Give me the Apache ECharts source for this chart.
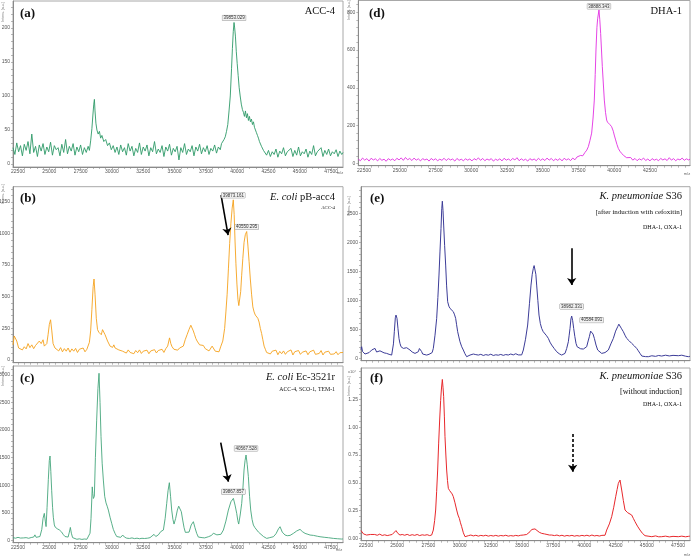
<!DOCTYPE html>
<html><head><meta charset="utf-8">
<script src="https://cdn.jsdelivr.net/npm/echarts@6/dist/echarts.min.js"></script>
<style>html,body{margin:0;padding:0;background:#fff}#c{width:691px;height:558px}</style>
</head><body><div id="c"></div>
<script>
// ---------- data (m/z, intensity) ----------
const spectrumA = [[22100,24],[22250,14],[22400,31],[22550,18],[22700,27],[22850,12],[23000,29],[23150,20],[23300,33],[23450,15],[23600,44],[23750,17],[23900,26],[24050,11],[24200,28],[24350,19],[24500,30],[24650,14],[24800,25],[24950,18],[25100,32],[25250,13],[25400,27],[25550,21],[25700,24],[25850,12],[26000,29],[26150,17],[26300,36],[26450,15],[26600,26],[26750,19],[26900,30],[27050,13],[27200,25],[27350,18],[27500,28],[27650,14],[27800,24],[27950,17],[28100,26],[28200,20],[28300,34],[28400,52],[28480,72],[28550,88],[28600,95],[28650,78],[28720,60],[28800,50],[28900,44],[29000,48],[29100,38],[29200,42],[29350,33],[29500,36],[29650,27],[29800,31],[29950,21],[30100,27],[30250,17],[30400,25],[30550,14],[30700,28],[30850,18],[31000,24],[31150,13],[31300,30],[31450,19],[31600,26],[31750,12],[31900,23],[32050,17],[32200,31],[32350,14],[32500,25],[32650,19],[32800,28],[32950,12],[33100,24],[33250,18],[33400,33],[33550,15],[33700,22],[33850,17],[34000,27],[34150,11],[34300,25],[34450,19],[34600,29],[34750,13],[34900,23],[35050,18],[35200,26],[35350,6],[35500,24],[35650,17],[35800,30],[35950,14],[36100,22],[36250,18],[36400,27],[36550,12],[36700,25],[36850,19],[37000,29],[37150,15],[37300,24],[37450,18],[37600,27],[37750,14],[37900,23],[38050,19],[38200,28],[38350,16],[38500,25],[38650,21],[38750,30],[38850,28],[38950,36],[39050,40],[39150,48],[39250,58],[39350,78],[39450,100],[39550,140],[39620,170],[39690,195],[39750,208],[39800,200],[39860,188],[39930,165],[40000,148],[40080,130],[40160,112],[40240,100],[40330,88],[40420,80],[40500,76],[40580,70],[40660,78],[40740,68],[40820,74],[40900,64],[40980,70],[41060,62],[41140,66],[41220,58],[41300,62],[41380,54],[41460,50],[41540,46],[41620,42],[41700,38],[41780,33],[41860,35],[41940,26],[42020,28],[42100,20],[42200,22],[42350,13],[42500,20],[42650,11],[42800,18],[42950,14],[43100,22],[43250,10],[43400,19],[43550,15],[43700,24],[43850,12],[44000,18],[44150,16],[44300,23],[44450,11],[44600,20],[44750,13],[44900,25],[45050,12],[45200,18],[45350,15],[45500,22],[45650,10],[45800,19],[45950,14],[46100,27],[46250,12],[46400,18],[46550,16],[46700,24],[46850,11],[47000,20],[47150,14],[47300,22],[47450,12],[47600,18],[47750,15],[47900,21],[48050,11],[48200,19],[48350,14],[48450,17]];

const spectrumB = [[22100,120],[22200,190],[22280,205],[22400,150],[22550,95],[22700,110],[22850,80],[23000,105],[23150,88],[23300,130],[23450,98],[23600,120],[23750,90],[23900,115],[24050,100],[24200,150],[24350,130],[24500,160],[24600,110],[24700,100],[24800,130],[24900,200],[25000,280],[25100,318],[25200,230],[25300,130],[25450,95],[25600,110],[25750,72],[25900,98],[26050,65],[26200,90],[26350,70],[26500,95],[26650,62],[26800,88],[26950,70],[27100,92],[27250,60],[27400,85],[27550,72],[27700,95],[27850,65],[28000,85],[28100,100],[28200,140],[28300,230],[28400,400],[28500,580],[28570,640],[28650,520],[28750,330],[28850,240],[28950,220],[29050,235],[29150,200],[29250,240],[29350,250],[29450,200],[29550,185],[29650,150],[29750,160],[29850,110],[29950,125],[30050,100],[30150,120],[30250,95],[30400,110],[30550,80],[30700,95],[30850,70],[31000,78],[31150,55],[31300,80],[31450,60],[31600,72],[31750,50],[31900,75],[32050,58],[32200,80],[32350,52],[32500,70],[32650,55],[32800,78],[32950,50],[33100,72],[33250,60],[33400,82],[33550,56],[33700,75],[33850,62],[34000,85],[34150,60],[34300,90],[34450,110],[34600,175],[34700,130],[34800,105],[34950,85],[35100,100],[35250,78],[35400,95],[35550,85],[35700,110],[35850,160],[36000,200],[36150,240],[36300,275],[36400,260],[36500,230],[36600,200],[36700,170],[36800,150],[36900,165],[37000,120],[37150,105],[37300,115],[37450,90],[37600,88],[37750,72],[37900,85],[38000,110],[38100,95],[38250,70],[38400,80],[38550,65],[38700,110],[38850,150],[39000,250],[39100,380],[39200,520],[39300,720],[39400,920],[39500,1080],[39600,1200],[39690,1265],[39760,1150],[39830,940],[39900,760],[39980,600],[40060,480],[40130,430],[40200,440],[40280,540],[40360,670],[40450,800],[40550,930],[40650,990],[40760,1015],[40860,900],[40950,780],[41050,640],[41150,520],[41250,420],[41350,380],[41450,355],[41550,345],[41650,330],[41750,300],[41850,250],[41950,210],[42050,160],[42150,110],[42250,85],[42350,60],[42500,75],[42650,48],[42800,70],[42950,55],[43100,78],[43250,42],[43400,68],[43550,50],[43700,72],[43850,45],[44000,65],[44150,52],[44300,80],[44450,40],[44600,66],[44750,55],[44900,75],[45050,45],[45200,62],[45350,50],[45500,72],[45650,42],[45800,65],[45950,55],[46100,78],[46250,45],[46400,60],[46550,52],[46700,75],[46850,40],[47000,62],[47150,50],[47300,70],[47450,45],[47600,60],[47750,48],[47900,66],[48050,42],[48200,58],[48350,50],[48450,60]];

const spectrumC = [[22100,50],[22300,40],[22500,55],[22700,42],[22800,60],[22950,45],[23150,50],[23350,38],[23550,52],[23750,60],[23850,100],[23950,55],[24100,45],[24250,70],[24400,200],[24500,400],[24600,490],[24680,350],[24740,250],[24820,600],[24920,1100],[25000,1450],[25056,1530],[25120,1250],[25190,900],[25260,600],[25320,420],[25400,280],[25470,240],[25560,230],[25640,210],[25720,225],[25800,190],[25900,165],[25990,150],[26100,110],[26250,70],[26390,50],[26500,60],[26600,150],[26680,235],[26760,130],[26860,50],[27000,28],[27200,20],[27400,28],[27600,18],[27800,25],[28000,20],[28120,30],[28250,130],[28330,400],[28430,970],[28470,850],[28520,760],[28596,800],[28680,1500],[28780,2180],[28880,2750],[28969,3030],[29050,2500],[29128,1880],[29220,1400],[29315,1094],[29420,800],[29528,680],[29620,620],[29714,550],[29850,420],[29980,310],[30110,200],[30246,127],[30380,70],[30512,36],[30700,55],[30860,97],[31000,60],[31180,40],[31400,35],[31600,45],[31800,32],[32000,40],[32200,30],[32400,38],[32600,34],[32850,40],[33042,50],[33200,70],[33361,109],[33500,70],[33707,100],[33900,160],[34107,187],[34250,400],[34373,671],[34480,900],[34585,1046],[34680,800],[34772,550],[34870,380],[34958,296],[35090,400],[35224,550],[35330,620],[35437,641],[35540,520],[35650,369],[35760,230],[35863,145],[36000,127],[36156,150],[36330,280],[36502,339],[36630,230],[36768,127],[36900,60],[37035,36],[37200,50],[37400,45],[37700,66],[37950,90],[38100,130],[38233,157],[38380,100],[38499,66],[38700,110],[38898,187],[39100,350],[39297,550],[39500,700],[39697,762],[39830,640],[39963,490],[40050,360],[40122,296],[40240,460],[40362,671],[40460,950],[40548,1276],[40630,1450],[40708,1548],[40800,1380],[40894,1155],[40990,800],[41081,550],[41190,380],[41294,278],[41420,230],[41560,200],[41700,150],[41826,127],[42100,70],[42359,36],[42600,50],[42891,66],[43100,120],[43300,210],[43423,248],[43600,150],[43823,97],[44000,85],[44222,90],[44488,127],[44750,170],[45020,200],[45200,160],[45420,127],[45650,110],[45819,97],[46100,90],[46400,75],[46618,66],[47000,55],[47300,48],[47683,36],[48000,30],[48349,24],[48450,26]];

const spectrumD = [[22100,22],[22250,14],[22400,28],[22550,17],[22700,25],[22850,12],[23000,27],[23150,18],[23300,24],[23450,13],[23600,26],[23750,16],[23900,22],[24050,11],[24200,25],[24350,17],[24500,23],[24650,14],[24800,27],[24950,18],[25100,29],[25250,16],[25400,31],[25550,19],[25700,26],[25850,15],[26000,28],[26150,17],[26300,24],[26450,13],[26600,25],[26750,18],[26900,23],[27050,12],[27200,26],[27350,17],[27500,24],[27650,14],[27800,22],[27950,16],[28100,27],[28250,15],[28400,25],[28550,18],[28700,23],[28850,12],[29000,26],[29150,16],[29300,22],[29450,14],[29600,24],[29750,17],[29900,23],[30050,13],[30200,25],[30350,18],[30500,29],[30650,16],[30800,26],[30950,14],[31100,23],[31250,17],[31400,25],[31550,12],[31700,22],[31850,16],[32000,24],[32150,13],[32300,27],[32450,17],[32600,23],[32750,15],[32900,26],[33050,18],[33200,30],[33350,14],[33500,24],[33650,16],[33800,22],[33950,12],[34100,25],[34250,17],[34400,23],[34550,14],[34700,27],[34850,16],[35000,24],[35150,15],[35300,28],[35450,17],[35600,26],[35750,14],[35900,23],[36050,16],[36200,25],[36350,13],[36500,27],[36650,18],[36800,24],[36950,15],[37100,28],[37250,19],[37400,34],[37500,30],[37650,42],[37800,40],[37955,58],[38080,70],[38188,88],[38300,120],[38421,160],[38520,240],[38607,335],[38670,470],[38724,600],[38790,720],[38840,765],[38934,812],[38990,760],[39050,688],[39110,600],[39167,512],[39240,420],[39307,335],[39390,270],[39470,229],[39530,218],[39586,212],[39700,205],[39819,194],[39936,170],[40000,150],[40099,124],[40190,100],[40286,79],[40400,64],[40519,53],[40650,42],[40750,35],[40868,30],[41000,22],[41150,31],[41300,17],[41450,26],[41600,14],[41750,24],[41900,18],[42050,28],[42200,15],[42350,23],[42500,13],[42650,25],[42800,17],[42950,22],[43100,14],[43250,26],[43400,18],[43550,24],[43700,15],[43850,30],[44000,17],[44150,25],[44300,14],[44450,23],[44600,18],[44750,28],[44900,16],[45050,24],[45200,18],[45300,22]];

const spectrumE = [[22100,150],[22153,201],[22220,120],[22286,90],[22420,75],[22553,57],[22750,100],[22954,144],[23100,120],[23221,172],[23350,110],[23488,100],[23620,130],[23755,115],[23950,95],[24156,86],[24350,70],[24557,57],[24637,80],[24700,250],[24770,460],[24850,700],[24904,747],[24984,690],[25060,520],[25144,345],[25220,260],[25305,201],[25400,180],[25492,172],[25620,195],[25759,184],[25900,160],[26026,144],[26200,110],[26426,86],[26560,100],[26693,115],[26780,170],[26854,201],[26950,120],[27041,75],[27200,65],[27361,57],[27550,70],[27708,57],[27800,100],[27895,172],[28030,400],[28163,690],[28260,1050],[28349,1437],[28430,1850],[28510,2241],[28570,2580],[28617,2710],[28670,2550],[28723,2299],[28800,1950],[28884,1609],[28960,1250],[29044,977],[29140,900],[29231,862],[29360,830],[29498,805],[29600,750],[29685,690],[29760,580],[29845,460],[29940,370],[30032,287],[30170,200],[30299,144],[30430,80],[30566,29],[30700,50],[30834,57],[30960,80],[31101,75],[31300,65],[31501,57],[31700,70],[31900,50],[32100,65],[32300,55],[32500,72],[32700,50],[32900,62],[33100,55],[33300,68],[33500,52],[33700,66],[33900,58],[34100,75],[34300,60],[34500,80],[34700,60],[34974,60],[35107,144],[35280,330],[35454,575],[35600,950],[35721,1264],[35820,1450],[35908,1552],[35970,1600],[36042,1612],[36110,1450],[36175,1264],[36270,1000],[36362,747],[36470,600],[36576,517],[36700,460],[36843,431],[36970,390],[37110,345],[37240,280],[37377,230],[37580,170],[37778,115],[37980,80],[38179,57],[38320,70],[38446,86],[38580,170],[38713,287],[38780,400],[38847,517],[38920,680],[38980,730],[39060,650],[39140,517],[39230,380],[39327,259],[39420,200],[39514,172],[39700,165],[39915,161],[40050,175],[40182,201],[40300,300],[40396,374],[40500,470],[40582,495],[40690,420],[40796,345],[40930,230],[41063,144],[41200,110],[41384,86],[41650,100],[41918,144],[42120,250],[42319,345],[42500,470],[42666,546],[42760,590],[42853,580],[42980,510],[43120,460],[43250,400],[43387,345],[43600,300],[43787,259],[44000,215],[44188,172],[44320,130],[44455,86],[44600,40],[44722,11],[44900,30],[45123,29],[45400,45],[45700,35],[45950,50],[46191,40],[46500,55],[46800,42],[47100,52],[47527,46],[47800,55],[48100,38],[48328,29],[48450,35]];

const spectrumF = [[22100,0.07],[22153,0.06],[22300,0.04],[22420,0.045],[22550,0.03],[22687,0.03],[22850,0.035],[23000,0.025],[23200,0.035],[23400,0.028],[23600,0.038],[23800,0.026],[24000,0.032],[24200,0.025],[24400,0.03],[24600,0.035],[24750,0.045],[24904,0.07],[25050,0.045],[25224,0.03],[25400,0.035],[25600,0.028],[25800,0.036],[26000,0.026],[26200,0.033],[26400,0.027],[26600,0.035],[26800,0.025],[27000,0.032],[27200,0.028],[27400,0.033],[27600,0.025],[27762,0.03],[27895,0.075],[28000,0.16],[28082,0.255],[28160,0.42],[28243,0.615],[28320,0.85],[28403,1.065],[28480,1.24],[28537,1.335],[28617,1.43],[28670,1.36],[28723,1.275],[28780,1.1],[28830,0.915],[28900,0.75],[28964,0.615],[29030,0.52],[29097,0.45],[29200,0.43],[29311,0.42],[29400,0.4],[29498,0.375],[29630,0.32],[29765,0.255],[29870,0.21],[29979,0.18],[30070,0.14],[30166,0.105],[30300,0.05],[30433,0.015],[30566,0.0],[30700,0.024],[30900,0.03],[31100,0.022],[31300,0.028],[31500,0.02],[31700,0.027],[31900,0.022],[32100,0.028],[32300,0.02],[32500,0.026],[32700,0.021],[32900,0.027],[33100,0.02],[33300,0.026],[33500,0.022],[33700,0.028],[33900,0.02],[34100,0.025],[34300,0.021],[34500,0.027],[34700,0.022],[34900,0.028],[35100,0.03],[35374,0.035],[35500,0.05],[35641,0.06],[35780,0.08],[35908,0.09],[36040,0.085],[36175,0.075],[36380,0.055],[36576,0.045],[36800,0.04],[37000,0.035],[37200,0.03],[37377,0.03],[37600,0.025],[37800,0.03],[38000,0.022],[38200,0.028],[38400,0.02],[38600,0.026],[38800,0.022],[39000,0.027],[39200,0.02],[39400,0.025],[39600,0.021],[39800,0.027],[40000,0.022],[40200,0.028],[40400,0.021],[40600,0.03],[40800,0.022],[41000,0.026],[41200,0.021],[41400,0.027],[41651,0.028],[41785,0.075],[42000,0.13],[42185,0.195],[42350,0.28],[42506,0.375],[42620,0.44],[42720,0.495],[42853,0.525],[42920,0.48],[42987,0.435],[43120,0.34],[43254,0.255],[43360,0.24],[43467,0.231],[43620,0.22],[43787,0.21],[43920,0.18],[44054,0.15],[44250,0.11],[44455,0.075],[44650,0.045],[44856,0.024],[45100,0.02],[45400,0.015],[45700,0.022],[45950,0.014],[46191,0.015],[46500,0.02],[46800,0.013],[47100,0.018],[47527,0.015],[47800,0.02],[48100,0.014],[48328,0.018],[48450,0.02]];

// peak annotations [m/z, intensity, label]
const peaksA = [[39750,208,'39853.029']];
const peaksB = [[39690,1265,'39873.161'],[40760,1015,'40550.295']];
const peaksC = [[39697,762,'39867.857'],[40708,1548,'40567.528']];
const peaksD = [[38934,812,'38888.343']];
const peaksE = [[38980,730,'38982.331'],[40582,495,'40584.091']];

// arrows [from, to] in data coordinates
const arrowB = [[38714,1303],[39273,987]];
const arrowC = [[38686,1771],[39297,1064]];
const arrowE = [[38980,1897],[38980,1264]];
const arrowF = [[39060,0.94],[39060,0.60]];

// tick labels
const xTicks = [22500,25000,27500,30000,32500,35000,37500,40000,42500,45000,47500];
const xTicksD = [22500,25000,27500,30000,32500,35000,37500,40000,42500];
const yTicksA = [0,50,100,150,200];
const yTicksB = [0,250,500,750,1000,1250];
const yTicksC = [0,500,1000,1500,2000,2500,3000];
const yTicksD = [0,200,400,600,800];
const yTicksE = [0,500,1000,1500,2000,2500];
const yTicksF = [0,0.25,0.5,0.75,1.0,1.25];

// ---------- layout ----------
function steps(lo, hi, st) { const r = []; for (let v = lo; v <= hi + 1e-9; v += st) r.push(+v.toFixed(4)); return r; }

const panels = [
  {d: spectrumA, color: '#2e9a68', w: 0.9, grid: {left: 13, right: 348, top: 1, bottom: 391}, x: [22100, 48450], y: [-4.4, 239.6], xt: xTicks, xLab: true, yt: yTicksA, ym: 10, peaks: peaksA, dist: 2},
  {d: spectrumB, color: '#f5a21c', w: 0.9, grid: {left: 13, right: 348, top: 186.7, bottom: 195.3}, x: [22100, 48450], y: [-21, 1369], xt: xTicks, xLab: false, yt: yTicksB, ym: 50, peaks: peaksB, dist: 2, arrow: arrowB},
  {d: spectrumC, color: '#45a67c', w: 0.9, grid: {left: 13, right: 348, top: 366, bottom: 15.3}, x: [22100, 48450], y: [-42, 3162], xt: xTicks, xLab: true, yt: yTicksC, ym: 100, peaks: peaksC, dist: 4, arrow: arrowC},
  {d: spectrumD, color: '#e22fe2', w: 0.9, grid: {left: 358.3, right: 1, top: 0.5, bottom: 392.3}, x: [22100, 45300], y: [-12.4, 862], xt: xTicksD, xLab: true, yt: yTicksD, ym: 40, peaks: peaksD, dist: 1},
  {d: spectrumE, color: '#3c3c98', w: 1, grid: {left: 361, right: 1, top: 186.7, bottom: 197.3}, x: [22100, 48460], y: [-40, 2960], xt: xTicks, xLab: false, yt: yTicksE, ym: 100, peaks: peaksE, dist: 7, arrow: arrowE},
  {d: spectrumF, color: '#e8282c', w: 1, grid: {left: 361, right: 1, top: 368, bottom: 17.3}, x: [22100, 48460], y: [-0.021, 1.533], xt: xTicks, xLab: true, yt: yTicksF, ym: 0.05, peaks: [], dist: 2, arrow: arrowF, dashed: true, fmt: v => v.toFixed(2)}
];

const SANS = 'Liberation Sans';
const SERIF = 'Liberation Serif';

const option = {
  animation: false,
  backgroundColor: '#fff',
  grid: panels.map(p => Object.assign({show: true, borderColor: '#a8a8a8', borderWidth: 1, containLabel: false, outerBoundsMode: 'none'}, p.grid)),
  xAxis: panels.map((p, i) => ({
    type: 'value', gridIndex: i, min: p.x[0], max: p.x[1],
    axisLine: {show: true, onZero: false, lineStyle: {color: '#8a8a8a', width: 1}},
    axisTick: {show: true, customValues: steps(22500, p.x[1], 500), length: 2, lineStyle: {color: '#8a8a8a', width: 0.6}},
    axisLabel: {show: p.xLab, customValues: p.xt, fontSize: 5, color: '#555', fontFamily: SANS, margin: 2.5,
      formatter: v => String(v)},
    splitLine: {show: false}
  })),
  yAxis: panels.map((p, i) => ({
    type: 'value', gridIndex: i, min: p.y[0], max: p.y[1],
    axisLine: {show: true, onZero: false, lineStyle: {color: '#8a8a8a', width: 1}},
    axisTick: {show: true, customValues: steps(0, p.y[1], p.ym), length: 2, lineStyle: {color: '#8a8a8a', width: 0.6}},
    axisLabel: {show: true, customValues: p.yt, fontSize: 5, color: '#555', fontFamily: SANS, margin: 3,
      formatter: p.fmt ? p.fmt : (v => String(v))},
    splitLine: {show: false}
  })),
  series: panels.map((p, i) => {
    const s = {
      type: 'line', xAxisIndex: i, yAxisIndex: i, data: p.d,
      showSymbol: false, symbol: 'none', clip: true, silent: true,
      lineStyle: {color: p.color, width: p.w},
      itemStyle: {color: p.color},
      markPoint: {
        symbol: 'rect', symbolSize: 0.1, silent: true, animation: false,
        data: p.peaks.map(q => ({coord: [q[0], q[1]], name: q[2]})),
        label: {show: true, position: 'top', distance: p.dist, formatter: q => q.name,
          fontSize: 4.5, color: '#333', fontFamily: SANS, backgroundColor: '#f2f2f2',
          borderColor: '#999', borderWidth: 0.5, padding: [0, 1]}
      }
    };
    if (p.arrow) {
      s.markLine = {
        silent: true, animation: false, symbol: ['none', 'arrow'], symbolSize: 7,
        label: {show: false},
        itemStyle: {color: '#000'},
        lineStyle: {color: '#000', width: 1.6, type: p.dashed ? [3, 2] : 'solid'},
        emphasis: {disabled: true},
        data: [[{coord: p.arrow[0]}, {coord: p.arrow[1]}]]
      };
    }
    return s;
  }),
  graphic: []
};

// ---------- texts ----------
function t(x, y, text, size, extra) {
  return {type: 'text', x: x, y: y, silent: true,
    style: Object.assign({text: text, fontSize: size, fontFamily: SERIF, fill: '#111', align: 'right', verticalAlign: 'middle'}, extra || {})};
}
function letter(x, y, s) { return t(x, y, s, 13, {align: 'left', fontWeight: 'bold'}); }
function ital(x, y, a, b, size) {
  return t(x, y, '{i|' + a + '}' + b, size, {rich: {i: {fontStyle: 'italic', fontSize: size, fontFamily: SERIF, fill: '#111'}}});
}
function yname(x, y) {
  return {type: 'text', x: x, y: y, rotation: Math.PI / 2, silent: true,
    style: {text: 'Intens. [a.u.]', fontSize: 3.5, fontFamily: SANS, fill: '#777', align: 'center', verticalAlign: 'middle'}};
}
function mz(x, y) { return t(x, y, 'm/z', 4, {fontFamily: SANS, fill: '#666', align: 'center'}); }

option.graphic = [
  letter(20, 14, '(a)'), t(335, 11.5, 'ACC-4', 10.5),
  letter(20, 199, '(b)'), ital(335, 197, 'E. coli', ' pB-acc4', 10.5), t(335, 208, 'ACC-4', 4.8),
  letter(20, 378.5, '(c)'), ital(335, 377, 'E. coli', ' Ec-3521r', 10.5), t(335, 389, 'ACC-4, SCO-1, TEM-1', 5.8),
  letter(369, 14, '(d)'), t(682, 11.5, 'DHA-1', 10.5),
  letter(370, 199, '(e)'), ital(682, 196, 'K. pneumoniae', ' S36', 10.5), t(682, 212, '[after induction with cefoxitin]', 7), t(682, 227, 'DHA-1, OXA-1', 6),
  letter(370, 378.5, '(f)'), ital(682, 376, 'K. pneumoniae', ' S36', 10.5), t(682, 392, '[without induction]', 8), t(682, 404, 'DHA-1, OXA-1', 6),
  yname(3, 12), yname(3, 194), yname(3, 376), yname(349, 10), yname(349, 206), yname(349, 386),
  t(352, 372, 'x10\u2074', 4, {fontFamily: SANS, fill: '#666', align: 'center'}),
  mz(340, 173), mz(339, 550), mz(687, 173.5), mz(687, 555)
];

const chart = echarts.init(document.getElementById('c'), null, {renderer: 'canvas'});
chart.setOption(option);
</script></body></html>
